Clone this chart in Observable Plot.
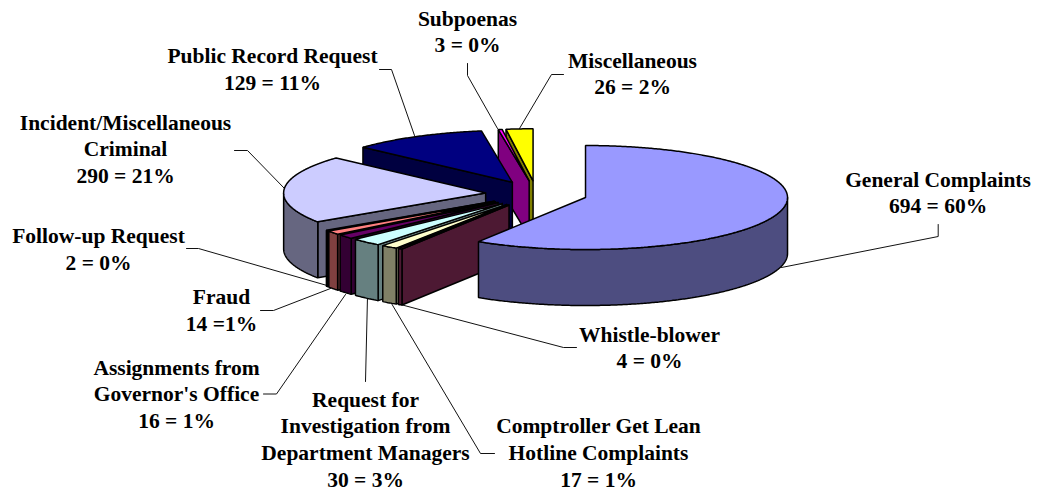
<!DOCTYPE html>
<html>
<head>
<meta charset="utf-8">
<script src="https://cdn.jsdelivr.net/npm/d3@7"></script>
<script src="https://cdn.jsdelivr.net/npm/@observablehq/plot@0.6"></script>
<style>html,body{margin:0;padding:0;background:#fff}svg{display:block}</style>
</head>
<body>
<div id="chart"></div>
<script>
// Slice data, clockwise from twelve o'clock
const names = ["General Complaints","Whistle-blower","Comptroller Get Lean Hotline Complaints","Request for Investigation from Department Managers","Assignments from Governor's Office","Fraud","Follow-up Request","Incident/Miscellaneous Criminal","Public Record Request","Subpoenas","Miscellaneous"];
const counts = [694,4,17,30,16,14,2,290,129,3,26];
// Share of the pie as drawn, in degrees of sweep
const sweeps = [212,1.2,4.7,8.7,4.8,4.2,0.6,76.1,38.9,1.1,7.7];
const topColors = ["#9999FF","#993366","#FFFFCC","#CCFFFF","#660066","#FF8080","#0066CC","#CCCCFF","#000080","#FF00FF","#FFFF00"];
const sideColors = ["#4D4D80","#4D1933","#808066","#668080","#330033","#804040","#003366","#666680","#000040","#800080","#808000"];
const labelLines = [
  ["General Complaints","694 = 60%"],
  ["Whistle-blower","4 = 0%"],
  ["Comptroller Get Lean","Hotline Complaints","17 = 1%"],
  ["Request for","Investigation from","Department Managers","30 = 3%"],
  ["Assignments from","Governor's Office","16 = 1%"],
  ["Fraud","14 =1%"],
  ["Follow-up Request","2 = 0%"],
  ["Incident/Miscellaneous","Criminal","290 = 21%"],
  ["Public Record Request","129 = 11%"],
  ["Subpoenas","3 = 0%"],
  ["Miscellaneous","26 = 2%"]
];

// Layout (separate from the data)
const W = 1037, H = 491;
const pie3d = {cx:536, cy:193.4, rx:202, ry:52, depth:56, explode:51};
const lineStep = 26.7;
const labelAnchors = [[937.5,186],[649,341],[598,432.7],[365,406],[176,374],[221,303.3],[98,242.7],[125,129],[272,62.7],[467,25],[632,67]];
const leaderPaths = [
  [[937.7,224],[937.7,236],[781,267]],
  [[576,347],[563,347],[400,304]],
  [[494,453],[480,453],[391,303]],
  [[365,381],[367,296]],
  [[263,393.5],[276,393.5],[345,294]],
  [[260,310],[273,310],[330,288]],
  [[186,248],[198,248],[330,286]],
  [[234,150],[247,150],[284,188]],
  [[379,69],[391,69],[414,135]],
  [[467,63],[467,75],[497,128]],
  [[563,74],[551,74],[519,128]]
];

const rad = d => d * Math.PI / 180;
const arcs = d3.pie().sort(null).value(d => d)(sweeps);
const polys = [];
function addPoly(id, color, pts) {
  pts.forEach(p => polys.push({id, color, x:p[0], y:p[1]}));
  polys.push({id, color, x:pts[0][0], y:pts[0][1]});
}
function arcPts(A, t0, t1, dy = 0) {
  const n = Math.max(2, Math.ceil((t1 - t0) * 2));
  return d3.range(n + 1).map(i => {
    const t = rad(t0 + (t1 - t0) * i / n);
    return [A[0] + pie3d.rx * Math.sin(t), A[1] - pie3d.ry * Math.cos(t) + dy];
  });
}
// Painter's order: last slice first, first slice on top
arcs.slice().reverse().forEach(a => {
  const i = a.index;
  const t0 = a.startAngle * 180 / Math.PI, t1 = a.endAngle * 180 / Math.PI;
  const mid = rad((t0 + t1) / 2);
  const A = [pie3d.cx + pie3d.explode * Math.sin(mid),
             pie3d.cy - pie3d.explode * pie3d.ry / pie3d.rx * Math.cos(mid)];
  const d = pie3d.depth;
  if (t0 > 180 && t0 < 360) {
    const R = arcPts(A, t0, t0)[0];
    addPoly(`cut${i}`, sideColors[i], [A, R, [R[0], R[1] + d], [A[0], A[1] + d]]);
  }
  const w0 = Math.max(t0, 90), w1 = Math.min(t1, 270);
  if (w1 > w0) {
    addPoly(`wall${i}`, sideColors[i], [...arcPts(A, w0, w1), ...arcPts(A, w0, w1, d).reverse()]);
  }
  addPoly(`top${i}`, topColors[i], [A, ...arcPts(A, t0, t1)]);
});

const leaders = leaderPaths.flatMap((path, i) => path.map(p => ({i, x:p[0], y:p[1]})));
const labelRows = labelLines.flatMap((lines, i) => lines.map((text, j) => ({
  text, x: labelAnchors[i][0], y: labelAnchors[i][1] + j * lineStep
})));

const chart = Plot.plot({
  width: W, height: H,
  margin: 0,
  x: {domain:[0,W], range:[0,W], axis:null},
  y: {domain:[0,H], range:[0,H], axis:null},
  color: {type:"identity"},
  style: {background:"#fff"},
  marks: [
    Plot.line(leaders, {x:"x", y:"y", z:"i", stroke:"#111", strokeWidth:1, curve:"linear"}),
    Plot.line(polys, {x:"x", y:"y", z:"id", fill:"color", stroke:"#000", strokeWidth:1.5, strokeLinejoin:"miter", curve:"linear"}),
    Plot.text(labelRows, {x:"x", y:"y", text:"text", textAnchor:"middle", lineAnchor:"bottom",
      fontFamily:"'Liberation Serif', serif", fontWeight:"bold", fontSize:21.5, fill:"#000"})
  ]
});
document.getElementById("chart").append(chart);
</script>
</body>
</html>
